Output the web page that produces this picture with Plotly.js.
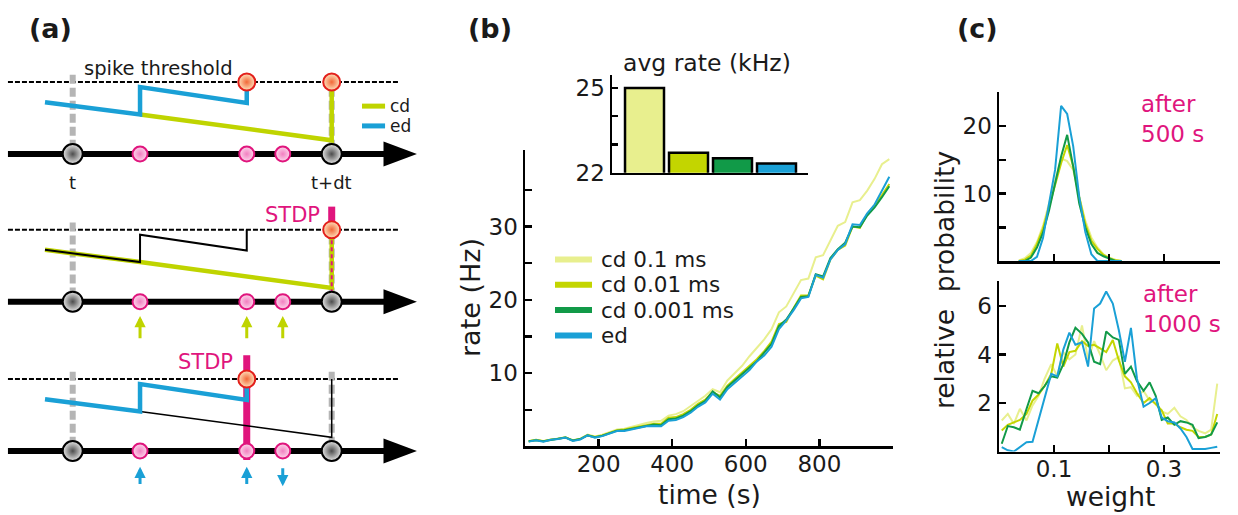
<!DOCTYPE html>
<html>
<head>
<meta charset="utf-8">
<script src="https://cdn.plot.ly/plotly-3.0.1.min.js"></script>
<style>html,body{margin:0;padding:0;background:#fff;}#chart{width:1238px;height:515px;}</style>
</head>
<body>
<div id="chart"></div>
<script>
// ---------------- data ----------------
const seriesNames = ['cd 0.1 ms', 'cd 0.01 ms', 'cd 0.001 ms', 'ed'];
const seriesColors = ['#e8ef8e', '#c3d500', '#119a48', '#1aa0d6'];

// (b) rate vs time
const time = [10,30,50,70,90,110,130,150,170,190,210,230,250,270,290,310,330,350,370,390,410,430,450,470,490,510,530,550,570,590,610,630,650,670,690,710,730,750,770,790,810,830,850,870,890,910,930,950,970,990];
const rateCd01 = [0.7,0.9,0.75,0.95,1.05,1.25,0.85,1.05,1.6,1.35,1.6,1.9,2.3,2.4,2.7,3.0,3.2,3.4,3.5,4.2,4.4,4.8,5.5,6.2,6.9,7.8,7.4,9.0,10.0,11.0,12.3,13.5,14.6,16.0,18.3,19.1,20.8,22.7,22.9,25.8,26.1,28.2,30.1,30.6,33.3,33.6,34.9,36.5,38.5,39.2];
const rateCd001 = [0.7,0.9,0.7,0.95,1.05,1.25,0.8,1.0,1.55,1.3,1.5,1.8,2.2,2.3,2.5,2.8,3.0,3.1,3.1,3.9,4.0,4.4,5.0,5.8,6.4,7.4,6.9,8.3,9.2,10.1,11.0,11.9,13.0,14.3,16.7,17.0,18.9,20.6,20.6,23.3,22.8,25.5,26.8,27.4,30.0,29.8,31.7,32.9,34.3,35.8];
const rateCd0001 = [0.7,0.85,0.7,0.9,1.0,1.2,0.8,1.0,1.5,1.25,1.45,1.75,2.15,2.2,2.4,2.7,2.9,3.0,2.9,3.7,3.8,4.2,4.8,5.6,6.2,7.5,6.7,8.1,9.0,9.9,10.8,11.6,12.8,14.0,16.4,17.3,18.8,20.4,20.5,23.5,23.2,25.7,26.9,27.8,30.0,29.9,31.5,32.6,34.0,35.5];
const rateEd = [0.65,0.85,0.65,0.9,1.0,1.2,0.75,0.95,1.5,1.2,1.4,1.7,2.1,2.1,2.3,2.6,2.75,2.8,2.75,3.5,3.6,4.0,4.6,5.4,6.0,7.2,6.4,7.8,8.7,9.5,10.4,11.6,12.4,13.6,16.0,17.2,18.6,20.2,20.4,23.4,23.0,25.5,26.8,27.6,30.3,30.2,31.8,33.0,35.0,36.8];

// (b) inset: average rate (kHz)
const avgRate = [25.0, 22.71, 22.51, 22.33];
const avgTicks = [22, 23, 24, 25];
const avgTickText = ['22', '', '', '25'];

// (c) weight distributions after 500 s
const wTop = [0.036,0.047,0.058,0.069,0.080,0.091,0.102,0.113,0.124,0.135,0.146,0.157,0.168,0.179,0.190,0.201,0.212,0.223];
const topCd01 = [0.1,0.4,1.2,2.8,5.2,8.5,11.8,15.2,14.8,13.5,9.5,6,3.5,2,1,0.5,0.2,0];
const topCd001 = [0,0.2,0.8,2.5,4.8,8,11.5,14.5,17.2,14,9.5,5.5,3,1.8,0.9,0.4,0.1,0];
const topCd0001 = [0,0,0.5,2,4.2,7.5,11.5,15.5,18.7,14,8.5,5,2.5,1.2,0.7,0.3,0,0];
const topEd = [0,0,0,0.6,3.4,8.5,13.5,23,21.8,17,9.5,4.3,1.0,0,0,0,0,0];

// (c) weight distributions after 1000 s
const wBot = [0.005,0.016,0.027,0.038,0.050,0.061,0.072,0.083,0.095,0.106,0.117,0.128,0.139,0.151,0.162,0.173,0.184,0.195,0.207,0.218,0.229,0.240,0.251,0.263,0.274,0.285,0.296,0.307,0.319,0.330,0.341,0.352,0.363,0.375,0.386,0.397];
const botCd01 = [1.28,1.55,1.14,1.76,1.28,1.9,2.3,3.0,3.6,3.1,4.1,3.8,4.0,5.2,3.8,4.55,4.0,3.35,3.75,3.9,2.6,2.65,2.3,2.5,2.1,2.0,1.65,1.55,1.8,1.45,1.3,1.0,0.85,0.75,0.9,2.8];
const botCd001 = [0.87,1.1,1.2,1.3,1.55,2.1,2.35,2.7,3.2,4.45,3.5,4.1,4.15,4.55,4.35,4.4,4.25,4.1,4.6,3.75,3.1,2.85,2.4,2.0,2.2,1.95,1.7,1.15,1.15,1.0,0.9,0.85,0.6,0.6,0.7,1.55];
const botCd0001 = [0.32,1.05,1.0,0.9,1.75,2.5,2.4,2.7,3.1,3.05,3.6,4.5,5.1,4.85,4.5,3.7,3.6,4.95,4.7,4.6,3.2,3.5,2.9,2.5,2.85,2.3,1.3,1.4,1.1,1.25,1.2,1.1,0.55,0.6,0.7,1.2];
const botEd = [0.18,0.05,0,0.2,0.38,0.4,1.3,2.2,3.2,3.1,4.2,4.9,4.4,4.5,3.5,5.9,6.1,6.6,6.1,5.0,3.7,5.1,3.0,1.85,2.0,2.2,1.4,1.25,1.2,0.95,0.6,0.1,0.1,0.1,0.15,0.2];

// (a) schematic (time in units of dt, potential in units of threshold)
const spikeTimes = [0, 1];                 // t, t+dt
const inputTimes = [0.26, 0.672, 0.811];   // presynaptic inputs
const stdpSign = [1, 1, -1];               // ed: potentiation / depression
const edS = [-0.107, 0.26, 0.26, 0.672, 0.672];
const edV = [0.72, 0.55, 0.93, 0.71, 1.0];
const cdS = [-0.107, 0.26, 1, 1];
const cdV = [0.72, 0.55, 0.19, 1.0];
const THR = 1.0;

// ---------------- styles ----------------
const FONT = 'DejaVu Sans, Verdana, sans-serif';
const TXT = '#1a1a1a';
const LIME = '#bfd400', BLUE = '#1aa0d6', MAG = '#e0157d';
const ROW_BASE = [4.125, 2.074, 0];

const traces = [];
const SCH = {xaxis: 'x3', yaxis: 'y3', hoverinfo: 'skip', showlegend: false};
function sline(xs, ys, color, width, dash) {
  return Object.assign({type: 'scatter', mode: 'lines', x: xs, y: ys,
    line: {color: color, width: width, dash: dash || 'solid'}}, SCH);
}
const up = (arr, b) => arr.map(v => v + b);
const ann = [];
function stext(x, y, t, size, color, extra) {
  return Object.assign({xref: 'x3', yref: 'y3', x: x, y: y, text: t, showarrow: false, xanchor: 'center', yanchor: 'middle',
    font: {family: FONT, size: size, color: color || TXT}}, extra || {});
}
function sarrow(x, tipY, tailY, color) {
  return {xref: 'x3', yref: 'y3', axref: 'x3', ayref: 'y3', x: x, y: tipY, ax: x, ay: tailY,
    text: '', showarrow: true, arrowhead: 2, arrowsize: 0.75, arrowwidth: 3, arrowcolor: color};
}

function rowCommonBack(b) {
  traces.push(sline([-0.25, 1.256], [b + THR, b + THR], '#000', 2, '5px,2px'));
  traces.push(sline([spikeTimes[0], spikeTimes[0], null, spikeTimes[1], spikeTimes[1]],
    [b + 1.1, b + 0.1, null, b + 1.1, b + 0.1], '#b5b5b5', 6, '9px,4px'));
}
function rowAxis(b, redS) {
  traces.push(sline([-0.25, 1.22], [b, b], '#000', 6));
  traces.push(Object.assign({type: 'scatter', mode: 'lines', fill: 'toself', fillcolor: '#000',
    x: [1.2, 1.329, 1.2, 1.2], y: [b + 0.174, b, b - 0.174, b + 0.174], line: {width: 0, color: '#000'}}, SCH));
  traces.push(Object.assign({type: 'scatter', mode: 'markers', x: spikeTimes, y: spikeTimes.map(() => b),
    marker: {size: 20, color: '#e6e6e6', gradient: {type: 'radial', color: '#4d4d4d'}, line: {color: '#000', width: 2}}}, SCH));
  traces.push(Object.assign({type: 'scatter', mode: 'markers', x: inputTimes, y: inputTimes.map(() => b),
    marker: {size: 15, color: '#fcd8ec', gradient: {type: 'radial', color: '#f27fc0'}, line: {color: MAG, width: 2}}}, SCH));
  traces.push(Object.assign({type: 'scatter', mode: 'markers', x: redS, y: redS.map(() => b + THR),
    marker: {size: 17, color: '#fde2bd', gradient: {type: 'radial', color: '#f26838'}, line: {color: '#e3201b', width: 2}}}, SCH));
}
const edSpike = edS[edS.length - 1], cdSpike = cdS[cdS.length - 1];

// Row 1: both integrations
let b = ROW_BASE[0];
rowCommonBack(b);
traces.push(sline(cdS.slice(1), up(cdV.slice(1), b), LIME, 4.5));
traces.push(sline(edS, up(edV, b), BLUE, 4.5));
traces.push(sline([1.117, 1.206], [b + 0.665, b + 0.665], LIME, 5));
traces.push(sline([1.117, 1.206], [b + 0.39, b + 0.39], BLUE, 5));
rowAxis(b, [edSpike, cdSpike]);
ann.push(stext(0.333, b + 1.19, 'spike threshold', 19.5));
ann.push(stext(spikeTimes[0], b - 0.39, 't', 18));
ann.push(stext(spikeTimes[1], b - 0.39, 't+dt', 18));
ann.push(stext(1.217, b + 0.665, 'cd', 17, TXT, {xanchor: 'left'}));
ann.push(stext(1.217, b + 0.39, 'ed', 17, TXT, {xanchor: 'left'}));

// Row 2: clock-driven STDP
b = ROW_BASE[1];
rowCommonBack(b);
traces.push(sline([cdSpike, cdSpike], [b + THR, b + 1.32], MAG, 7));
traces.push(sline(cdS, up(cdV, b), LIME, 4.5));
traces.push(sline(edS, up(edV, b), '#000', 2));
traces.push(sline([cdSpike, cdSpike], [b + 0.95, b + 0.1], MAG, 2, '4px,3px'));
rowAxis(b, [cdSpike]);
ann.push(stext(0.847, b + 1.21, 'STDP', 21, MAG));
inputTimes.forEach(s => ann.push(sarrow(s, b - 0.2, b - 0.53, LIME)));

// Row 3: event-driven STDP
b = ROW_BASE[2];
rowCommonBack(b);
traces.push(sline([edSpike, edSpike], [b + 1.33, b - 0.125], MAG, 7));
traces.push(sline(cdS.slice(1), up(cdV.slice(1), b), '#000', 1.5));
traces.push(sline(edS, up(edV, b), BLUE, 4.5));
rowAxis(b, [edSpike]);
ann.push(stext(0.511, b + 1.24, 'STDP', 21, MAG));
inputTimes.forEach((s, i) => {
  const tip = stdpSign[i] > 0 ? b - 0.22 : b - 0.49;
  const tail = stdpSign[i] > 0 ? b - 0.48 : b - 0.22;
  ann.push(sarrow(s, tip, tail, BLUE));
});

// ---------------- (b) ----------------
const rates = [rateCd01, rateCd001, rateCd0001, rateEd];
rates.forEach((r, i) => traces.push({type: 'scatter', mode: 'lines', x: time, y: r, xaxis: 'x', yaxis: 'y',
  name: seriesNames[i], line: {color: seriesColors[i], width: 2}, showlegend: false}));
traces.push({type: 'bar', x: seriesNames, y: avgRate, xaxis: 'x2', yaxis: 'y2', showlegend: false,
  marker: {color: seriesColors, line: {color: '#000', width: 2.5}}});

// ---------------- (c) ----------------
[topCd01, topCd001, topCd0001, topEd].forEach((r, i) => traces.push({type: 'scatter', mode: 'lines', x: wTop, y: r,
  xaxis: 'x4', yaxis: 'y4', name: seriesNames[i], line: {color: seriesColors[i], width: 2}, showlegend: false}));
[botCd01, botCd001, botCd0001, botEd].forEach((r, i) => traces.push({type: 'scatter', mode: 'lines', x: wBot, y: r,
  xaxis: 'x5', yaxis: 'y5', name: seriesNames[i], line: {color: seriesColors[i], width: 2}, showlegend: false}));

// ---------------- layout ----------------
const W = 1238, H = 515;
const px = v => v / W, py = v => 1 - v / H;
function ax(extra) {
  return Object.assign({showgrid: false, zeroline: false, showline: true, linecolor: '#000', linewidth: 2.5,
    ticks: 'inside', ticklen: 7, tickwidth: 2.5, tickcolor: '#000', fixedrange: true,
    tickfont: {family: FONT, size: 23, color: TXT}}, extra);
}
const shapes = [];
seriesNames.forEach((n, i) => {
  const y = py(259.5 + 25.3 * i);
  shapes.push({type: 'line', xref: 'paper', yref: 'paper', x0: px(555), x1: px(592), y0: y, y1: y,
    line: {color: seriesColors[i], width: 6}});
  ann.push({xref: 'paper', yref: 'paper', x: px(599), y: y, xanchor: 'left', yanchor: 'middle', text: n,
    showarrow: false, font: {family: FONT, size: 21.5, color: TXT}});
});
const lab = (x, y, t, size, extra) => Object.assign({xref: 'paper', yref: 'paper', x: px(x), y: py(y), text: t,
  xanchor: 'center', yanchor: 'middle', showarrow: false, font: {family: FONT, size: size, color: TXT}}, extra || {});
ann.push(lab(50, 28, '<b>(a)</b>', 27));
ann.push(lab(490, 28, '<b>(b)</b>', 27));
ann.push(lab(977, 28, '<b>(c)</b>', 27));
ann.push(lab(709, 494, 'time (s)', 26.5));
ann.push(lab(470, 298, 'rate (Hz)', 27, {textangle: -90}));
ann.push(lab(707, 63, 'avg rate (kHz)', 23.5));
ann.push(lab(1110, 496, 'weight', 26.5));
ann.push(lab(944, 280, 'relative\u00a0 probability', 26.5, {textangle: -90}));
ann.push(lab(1139, 118.5, 'after<br>500 s', 23, {xanchor: 'left', align: 'left', font: {family: FONT, size: 23, color: MAG}}));
ann.push(lab(1141, 309, 'after<br>1000 s', 23, {xanchor: 'left', align: 'left', font: {family: FONT, size: 23, color: MAG}}));

const layout = {
  width: W, height: H, margin: {l: 0, r: 0, t: 0, b: 0}, paper_bgcolor: '#fff', plot_bgcolor: 'rgba(0,0,0,0)',
  showlegend: false, bargap: 0.114,
  xaxis: ax({domain: [px(525), px(893)], range: [0, 1000], tickvals: [200, 400, 600, 800], anchor: 'y', ticklabelstandoff: -5}),
  yaxis: ax({domain: [py(446.4), py(150)], range: [0, 40.44], tickvals: [5, 10, 15, 20, 25, 30, 35],
    ticktext: ['', '10', '', '20', '', '30', ''], anchor: 'x'}),
  xaxis2: ax({domain: [px(612), px(808)], range: [-0.739, 3.716], anchor: 'y2', ticks: '', showticklabels: false, type: 'category'}),
  yaxis2: ax({domain: [py(172.7), py(75)], range: [22, 25.46], tickvals: avgTicks, ticktext: avgTickText, ticklen: 6, anchor: 'x2'}),
  xaxis3: {domain: [0, px(420)], range: [-0.2807, 1.3409], visible: false, fixedrange: true, anchor: 'y3'},
  yaxis3: {domain: [0, 1], range: [-0.889, 6.264], visible: false, fixedrange: true, anchor: 'x3'},
  xaxis4: ax({domain: [px(999), px(1220)], range: [0, 0.402], tickvals: [0.1, 0.2, 0.3], showticklabels: false, anchor: 'y4'}),
  yaxis4: ax({domain: [py(261), py(91.7)], range: [0, 25.1], tickvals: [5, 10, 15, 20], ticktext: ['', '10', '', '20'], anchor: 'x4'}),
  xaxis5: ax({domain: [px(999), px(1220)], range: [0, 0.402], tickvals: [0.1, 0.2, 0.3], ticktext: ['0.1', '', '0.3'], anchor: 'y5', ticklabelstandoff: -5}),
  yaxis5: ax({domain: [py(451.5), py(281)], range: [0, 7.03], tickvals: [2, 4, 6], anchor: 'x5'}),
  shapes: shapes,
  annotations: ann
};
Plotly.newPlot('chart', traces, layout, {displayModeBar: false, staticPlot: true});
</script>
</body>
</html>
